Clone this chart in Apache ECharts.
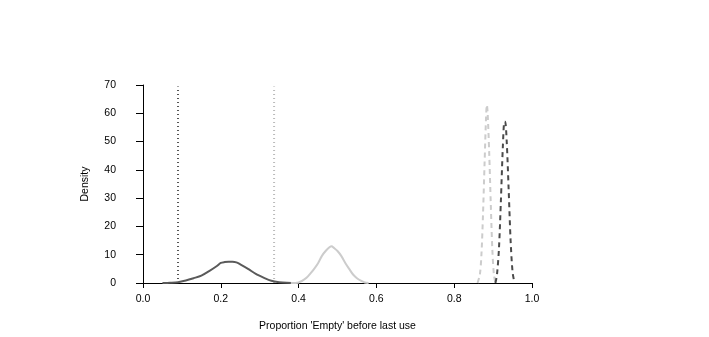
<!DOCTYPE html>
<html>
<head>
<meta charset="utf-8">
<script src="https://cdn.jsdelivr.net/npm/echarts@6/dist/echarts.min.js"></script>
<style>html,body{margin:0;padding:0;background:#fff;}#c{width:709px;height:337px;}</style>
</head>
<body>
<div id="c"></div>
<script>
// Dark solid density curve
const darkSolidX = [0.05,0.07,0.09,0.11,0.13,0.15,0.17,0.19,0.20,0.21,0.22,0.23,0.24,0.25,0.27,0.29,0.31,0.33,0.35,0.37,0.40];
const darkSolidY = [0,0.1,0.3,0.9,1.7,2.6,4.2,6.0,7.1,7.4,7.5,7.5,7.3,6.6,5.0,3.2,1.9,0.8,0.3,0.1,0];
// Light solid density curve
const lightSolidX = [0.38,0.40,0.42,0.43,0.44,0.45,0.46,0.47,0.48,0.485,0.49,0.50,0.51,0.52,0.53,0.54,0.55,0.56,0.57,0.58];
const lightSolidY = [0,0.2,1.8,3.3,5.0,7.0,9.6,11.4,12.7,13.0,12.5,11.3,9.5,7.1,5.0,3.0,1.7,0.8,0.2,0];
// Light dashed density curve
const lightDashX = [0.860,0.866,0.870,0.874,0.878,0.882,0.884,0.886,0.890,0.894,0.898,0.902,0.906];
const lightDashY = [0,3,10,24,42,59,63,60,46,28,12,3,0];
// Dark dashed density curve
const darkDashX = [0.906,0.910,0.915,0.920,0.925,0.929,0.931,0.935,0.940,0.945,0.950,0.955];
const darkDashY = [0,3,12,29,48,57,57,50,33,15,4,0];
// Vertical reference lines
const darkVline = 0.09;
const lightVline = 0.337;
const vlineTop = 69.5;
// Axis ticks
const xTicks = [0, 0.2, 0.4, 0.6, 0.8, 1.0];
const yTicks = [0, 10, 20, 30, 40, 50, 60, 70];

const pair = (xs, ys) => xs.map((x, i) => [x, ys[i]]);
const font = 'Liberation Sans, Arial, Helvetica, sans-serif';

const chart = echarts.init(document.getElementById('c'));
const lineBase = { type: 'line', symbol: 'none', smooth: 0.3, animation: false, z: 3 };
chart.setOption({
  backgroundColor: '#fff',
  animation: false,
  grid: { left: 143, right: 709 - 532, top: 85, bottom: 337 - 283, containLabel: false },
  xAxis: {
    type: 'value', min: xTicks[0], max: xTicks[xTicks.length - 1], interval: 0.2,
    axisLine: { show: true, onZero: false, lineStyle: { color: '#000', width: 1 } },
    axisTick: { show: true, inside: false, length: 5, lineStyle: { color: '#000' } },
    splitLine: { show: false },
    axisLabel: { color: '#000', fontSize: 10.5, fontFamily: font, margin: 11, formatter: v => v.toFixed(1) },
    name: "Proportion 'Empty' before last use",
    nameLocation: 'middle', nameGap: 38,
    nameTextStyle: { color: '#000', fontSize: 10.5, fontFamily: font }
  },
  yAxis: {
    type: 'value', min: yTicks[0], max: yTicks[yTicks.length - 1], interval: 10, offset: 15,
    axisLine: { show: true, lineStyle: { color: '#000', width: 1 } },
    axisTick: { show: true, inside: false, length: 7, lineStyle: { color: '#000' } },
    splitLine: { show: false },
    axisLabel: { color: '#000', fontSize: 10.5, fontFamily: font, margin: 12 },
    name: 'Density', nameLocation: 'middle', nameGap: 37,
    nameTextStyle: { color: '#000', fontSize: 10.5, fontFamily: font }
  },
  series: [
    Object.assign({}, lineBase, { data: pair(darkSolidX, darkSolidY), lineStyle: { color: '#5a5a5a', width: 2 } }),
    Object.assign({}, lineBase, { data: pair(lightSolidX, lightSolidY), lineStyle: { color: '#cccccc', width: 2 } }),
    Object.assign({}, lineBase, { data: pair(lightDashX, lightDashY), lineStyle: { color: '#cccccc', width: 2, type: [5, 4] } }),
    Object.assign({}, lineBase, { data: pair(darkDashX, darkDashY), lineStyle: { color: '#4a4a4a', width: 2, type: [5, 4] } }),
    { type: 'line', symbol: 'none', animation: false, z: 2, data: [[darkVline, 0], [darkVline, vlineTop]], lineStyle: { color: '#555', width: 2, type: [1, 3] } },
    { type: 'line', symbol: 'none', animation: false, z: 2, data: [[lightVline, 0], [lightVline, vlineTop]], lineStyle: { color: '#bbbbbb', width: 2, type: [1, 3] } }
  ]
});
</script>
</body>
</html>
